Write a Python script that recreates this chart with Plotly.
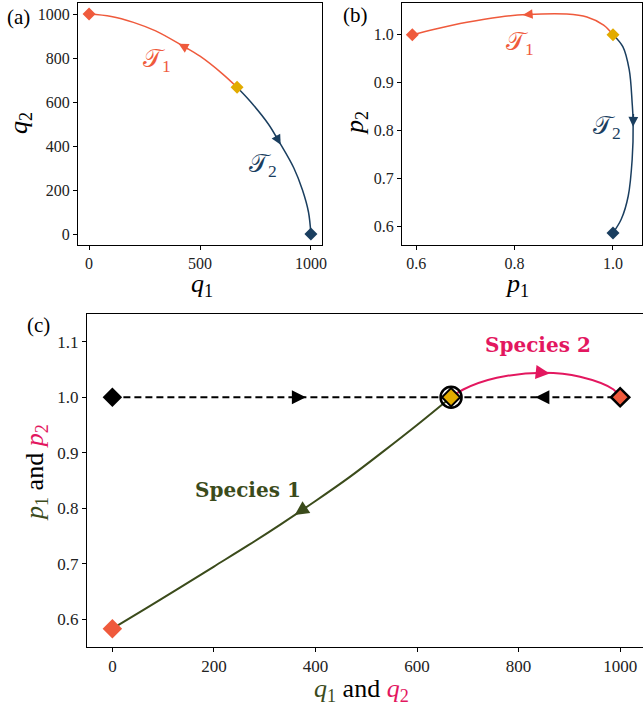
import plotly.graph_objects as go

# ---------------- data ----------------
ORANGE = "#EF5A3C"
NAVY = "#1A3E5F"
GOLD = "#E2AB00"
OLIVE = "#3B4B1B"
PINK = "#E3175F"

# panel (a): q1-q2 plane, curves ordered along direction of travel
a_T1_q1 = [667, 600, 500, 422, 300, 200, 100, 0]
a_T1_q2 = [667, 729, 808, 855, 923, 962, 989, 1000]
a_T2_q1 = [667, 729, 808, 855, 923, 962, 989, 1000]
a_T2_q2 = [667, 600, 500, 422, 300, 200, 100, 0]

# panel (b): p1-p2 plane
b_T1_p1 = [1.0, 0.981, 0.947, 0.906, 0.825, 0.770, 0.703, 0.635, 0.592]
b_T1_p2 = [1.0, 1.020, 1.037, 1.043, 1.042, 1.037, 1.026, 1.011, 1.0]
b_T2_p1 = [1.0, 1.020, 1.033, 1.039, 1.041, 1.039, 1.031, 1.017, 1.0]
b_T2_p2 = [1.0, 0.975, 0.927, 0.858, 0.816, 0.740, 0.664, 0.616, 0.587]

# panel (c)
c_sp1_q = [667, 600, 533, 467, 400, 333, 267, 200, 133, 67, 0]
c_sp1_p = [1.0, 0.950, 0.902, 0.856, 0.813, 0.772, 0.733, 0.695, 0.657, 0.620, 0.583]
c_sp2_q = [667, 691, 757, 849, 921, 987, 1000]
c_sp2_p = [1.0, 1.014, 1.035, 1.044, 1.037, 1.014, 1.0]
c_dash_q = [0, 1000]
c_dash_p = [1.0, 1.0]
c_dashR_q = [345, 381]
c_dashR_p = [1.0, 1.0]
c_dashL_q = [870, 833]
c_dashL_p = [1.0, 1.0]

# arrow placement: (segment end index, fraction along segment) -> arrow tip
a_T1_arrow = (4, 0.15)
a_T2_arrow = (4, 0.13)
b_T1_arrow = (5, 0.15)
b_T2_arrow = (5, 0.10)
c_sp1_arrow = (5, 0.61)
c_sp2_arrow = (4, 0.17)

# tick values
a_xticks = [0, 500, 1000]
a_yticks = [0, 200, 400, 600, 800, 1000]
b_xticks = [0.6, 0.8, 1.0]
b_yticks = [0.6, 0.7, 0.8, 0.9, 1.0]
c_xticks = [0, 200, 400, 600, 800, 1000]
c_yticks = [0.6, 0.7, 0.8, 0.9, 1.0, 1.1]

FONT = "Liberation Serif"
W, H = 643, 709

fig = go.Figure()
ann = []


def curve(x, y, color, width, ax, dash="solid"):
    fig.add_trace(go.Scatter(x=x, y=y, mode="lines", xaxis=ax[0], yaxis=ax[1],
                             line=dict(color=color, width=width, shape="spline",
                                       smoothing=1.0, dash=dash),
                             hoverinfo="skip", showlegend=False))


def arrow(x, y, where, color, width, size, ax):
    i, f = where
    dx = x[i] - x[i - 1]
    dy = y[i] - y[i - 1]
    tx = x[i - 1] + f * dx
    ty = y[i - 1] + f * dy
    ann.append(dict(x=tx, y=ty, ax=tx - 0.35 * dx, ay=ty - 0.35 * dy,
                    xref=ax[0], yref=ax[1], axref=ax[0], ayref=ax[1],
                    text="", showarrow=True, arrowhead=2, arrowsize=size,
                    arrowwidth=width, arrowcolor=color, standoff=0,
                    font=dict(size=1), borderpad=0, borderwidth=0))


def point(x, y, color, size, ax, symbol="diamond", lw=0, lc="black"):
    fig.add_trace(go.Scatter(x=[x], y=[y], mode="markers", xaxis=ax[0], yaxis=ax[1],
                             marker=dict(symbol=symbol, size=size, color=color,
                                         line=dict(width=lw, color=lc)),
                             hoverinfo="skip", showlegend=False))


A = ("x", "y")
B = ("x2", "y2")
C = ("x3", "y3")

# ---- panel (a)
curve(a_T1_q1, a_T1_q2, ORANGE, 1.5, A)
curve(a_T2_q1, a_T2_q2, NAVY, 1.5, A)
arrow(a_T1_q1, a_T1_q2, a_T1_arrow, ORANGE, 1.5, 1.3, A)
arrow(a_T2_q1, a_T2_q2, a_T2_arrow, NAVY, 1.5, 1.3, A)
point(a_T1_q1[-1], a_T1_q2[-1], ORANGE, 10, A)
point(a_T2_q1[-1], a_T2_q2[-1], NAVY, 10, A)
point(a_T1_q1[0], a_T1_q2[0], GOLD, 10, A)

# ---- panel (b)
curve(b_T1_p1, b_T1_p2, ORANGE, 1.5, B)
curve(b_T2_p1, b_T2_p2, NAVY, 1.5, B)
arrow(b_T1_p1, b_T1_p2, b_T1_arrow, ORANGE, 1.5, 1.3, B)
arrow(b_T2_p1, b_T2_p2, b_T2_arrow, NAVY, 1.5, 1.3, B)
point(b_T1_p1[-1], b_T1_p2[-1], ORANGE, 10, B)
point(b_T2_p1[-1], b_T2_p2[-1], NAVY, 10, B)
point(b_T1_p1[0], b_T1_p2[0], GOLD, 10, B)

# ---- panel (c)
curve(c_dash_q, c_dash_p, "black", 2, C, dash="7px,4px")
arrow(c_dashR_q, c_dashR_p, (1, 1.0), "black", 2, 1.4, C)
arrow(c_dashL_q, c_dashL_p, (1, 1.0), "black", 2, 1.4, C)
curve(c_sp1_q, c_sp1_p, OLIVE, 2, C)
curve(c_sp2_q, c_sp2_p, PINK, 2, C)
arrow(c_sp1_q, c_sp1_p, c_sp1_arrow, OLIVE, 2, 1.4, C)
arrow(c_sp2_q, c_sp2_p, c_sp2_arrow, PINK, 2, 1.4, C)
point(c_dash_q[0], c_dash_p[0], "black", 15, C)
point(c_sp1_q[-1], c_sp1_p[-1], ORANGE, 15, C)
point(c_sp2_q[-1], c_sp2_p[-1], ORANGE, 14, C, lw=2.5)
point(c_sp1_q[0], c_sp1_p[0], "rgba(0,0,0,0)", 21, C, symbol="circle", lw=2.5)
point(c_sp1_q[0], c_sp1_p[0], GOLD, 14, C, lw=2)


def px_x(v):
    return v / W


def px_y(v):
    return 1 - v / H


axis_common = dict(showline=True, mirror=True, linecolor="black", linewidth=1,
                   ticks="outside", ticklen=4, tickwidth=1, tickcolor="black",
                   showgrid=False, zeroline=False, automargin=False,
                   tickfont=dict(family=FONT, size=16, color="#222"))

fig.update_layout(
    width=W, height=H, margin=dict(l=0, r=0, t=0, b=0),
    paper_bgcolor="white", plot_bgcolor="white", showlegend=False,
    font=dict(family=FONT, color="black"),
    xaxis=dict(domain=[px_x(78), px_x(322)], range=[-50, 1050], tickvals=a_xticks,
               anchor="y", **axis_common),
    yaxis=dict(domain=[px_y(245), px_y(3)], range=[-50, 1050], tickvals=a_yticks,
               anchor="x", **axis_common),
    xaxis2=dict(domain=[px_x(402), px_x(642)], range=[0.571, 1.059], tickvals=b_xticks,
                tickformat=".1f", anchor="y2", **axis_common),
    yaxis2=dict(domain=[px_y(245), px_y(3)], range=[0.562, 1.066], tickvals=b_yticks,
                tickformat=".1f", anchor="x2", **axis_common),
    xaxis3=dict(domain=[px_x(87), 1.0], range=[-50, 1045], tickvals=c_xticks,
                anchor="y3", **axis_common),
    yaxis3=dict(domain=[px_y(647), px_y(314)], range=[0.55, 1.15], tickvals=c_yticks,
                tickformat=".1f", anchor="x3", **axis_common),
)
fig.update_xaxes(tickfont_size=17, selector=dict(anchor="y3"))
fig.update_yaxes(tickfont_size=17, selector=dict(anchor="x3"))


def paper_text(x, y, text, size, angle=0, color="black"):
    ann.append(dict(x=px_x(x), y=px_y(y), xref="paper", yref="paper", text=text,
                    showarrow=False, textangle=angle, xanchor="center", yanchor="middle",
                    font=dict(family=FONT, size=size, color=color)))


def data_text(ax, x, y, text, size, color, family=FONT):
    ann.append(dict(x=x, y=y, xref=ax[0], yref=ax[1], text=text, showarrow=False,
                    xanchor="center", yanchor="middle",
                    font=dict(family=family, size=size, color=color)))


TS = "\U0001D4AF"
data_text(A, 305, 787, TS + "<sub>1</sub>", 25, ORANGE)
data_text(A, 785, 310, TS + "<sub>2</sub>", 25, NAVY)
data_text(B, 0.811, 0.982, TS + "<sub>1</sub>", 25, ORANGE)
data_text(B, 0.987, 0.806, TS + "<sub>2</sub>", 25, NAVY)
data_text(C, 268, 0.833, "<b>Species 1</b>", 20, OLIVE, "DejaVu Serif")
data_text(C, 838, 1.094, "<b>Species 2</b>", 20, PINK, "DejaVu Serif")

paper_text(18, 17, "(a)", 21)
paper_text(355, 15, "(b)", 21)
paper_text(38, 325, "(c)", 21)

paper_text(20, 123, "<i>q</i><sub>2</sub>", 26, angle=-90)
paper_text(202, 285, "<i>q</i><sub>1</sub>", 26)
paper_text(356, 123, "<i>p</i><sub>2</sub>", 26, angle=-90)
paper_text(517, 285, "<i>p</i><sub>1</sub>", 26)
paper_text(36, 473, f'<span style="color:{OLIVE}"><i>p</i><sub>1</sub></span> and '
                    f'<span style="color:{PINK}"><i>p</i><sub>2</sub></span>', 26, angle=-90)
paper_text(361, 690, f'<span style="color:{OLIVE}"><i>q</i><sub>1</sub></span> and '
                     f'<span style="color:{PINK}"><i>q</i><sub>2</sub></span>', 26)

fig.update_layout(annotations=ann)
fig.write_html("out.html")
